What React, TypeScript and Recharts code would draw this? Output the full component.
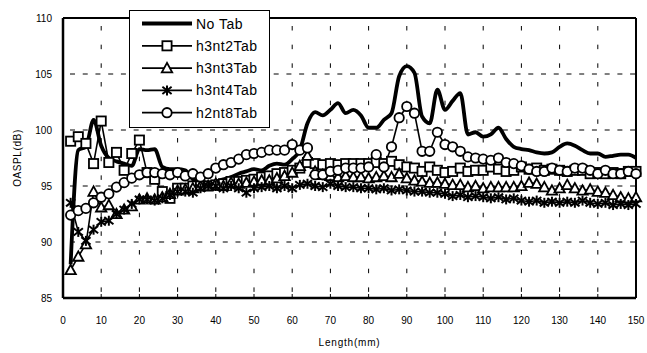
import React from 'react';
import { LineChart, Line, XAxis, YAxis, CartesianGrid, Legend, ReferenceLine, Label } from 'recharts';

const lengths = [
  2, 4, 6, 8, 10, 12, 14, 16, 18, 20,
  22, 24, 26, 28, 30, 32, 34, 36, 38, 40,
  42, 44, 46, 48, 50, 52, 54, 56, 58, 60,
  62, 64, 66, 68, 70, 72, 74, 76, 78, 80,
  82, 84, 86, 88, 90, 92, 94, 96, 98, 100,
  102, 104, 106, 108, 110, 112, 114, 116, 118, 120,
  122, 124, 126, 128, 130, 132, 134, 136, 138, 140,
  142, 144, 146, 148, 150,
];

const noTab = [
  88.0, 98.2, 98.5, 100.9, 98.6, 97.5, 97.2, 97.0, 96.8, 98.3,
  98.2, 98.3, 96.7, 96.5, 96.5, 96.4, 95.6, 95.3, 95.3, 95.4,
  95.6, 95.8, 96.1, 96.3, 96.5, 96.4, 96.8, 97.0, 96.9, 97.4,
  98.2, 100.6, 101.6, 101.3, 101.8, 102.4, 101.5, 101.8, 101.3, 100.2,
  100.2, 100.9, 101.5, 104.8, 105.7, 105.1, 101.2, 100.6, 103.6, 101.8,
  102.6, 103.3, 99.6, 99.8, 99.4, 99.6, 100.2, 99.2, 98.5, 98.3,
  98.2, 98.0, 97.9, 98.0, 98.5, 98.8, 98.6, 98.2, 97.9, 97.9,
  97.6, 97.7, 97.8, 97.8, 97.5,
];

const h3nt2Tab = [
  99.0, 99.4, 98.8, 97.0, 100.8, 97.1, 98.0, 96.4, 97.9, 99.1,
  96.2, 95.6, 94.5, 93.9, 94.8, 94.8, 95.0, 95.0, 95.0, 95.1,
  95.2, 95.4, 95.4, 95.5, 95.6, 95.8, 95.9, 96.1, 96.2, 96.4,
  96.6, 97.1, 97.0, 96.9, 97.0, 96.9, 97.0, 97.0, 97.0, 97.0,
  97.1, 97.0, 97.2, 96.9, 96.7, 96.6, 96.3, 96.7, 96.4, 96.2,
  96.3, 96.6, 96.3, 96.4, 96.4, 96.7, 96.5, 96.3, 96.4, 96.7,
  96.5, 96.6, 96.4, 96.5, 96.4, 96.3, 96.4, 96.4, 96.1, 96.2,
  96.1, 96.2, 96.1, 96.3, 96.3,
];

const h3nt3Tab = [
  87.5, 88.7, 89.8, 94.5, 93.1, 93.3, 92.5, 92.9, 93.2, 93.8,
  93.9, 93.8, 94.0, 94.3, 94.6, 94.7, 94.8, 95.0, 95.0, 95.2,
  95.0, 95.3, 95.2, 95.3, 95.4, 95.5, 95.5, 95.7, 95.9, 96.2,
  96.8, 97.7, 96.3, 96.0, 95.9, 95.8, 95.9, 95.8, 95.8, 95.7,
  95.8, 95.9, 95.8, 96.1, 95.7, 95.5, 95.4, 95.3, 95.3, 95.2,
  95.1, 95.1, 94.9, 95.0, 94.8, 94.9, 94.9, 94.9, 94.9, 95.0,
  95.3, 95.2, 94.9, 94.6, 94.8, 95.1, 94.8, 94.6, 94.7, 94.5,
  94.4, 94.2, 94.0, 93.9, 94.0,
];

const h3nt4Tab = [
  93.5, 90.9, 90.1, 91.1, 91.8, 91.9, 92.5, 92.9, 93.4, 93.8,
  93.8, 93.7, 93.9, 94.2, 94.5, 94.5, 94.4, 94.8, 95.0, 95.0,
  94.8, 95.0, 94.8, 94.4, 94.8, 94.9, 95.0, 94.8, 95.0, 94.8,
  95.1, 95.2, 95.0, 94.9, 95.2, 95.0, 94.9, 94.9, 94.8, 94.8,
  94.7, 94.8, 94.6, 94.7, 94.6, 94.5, 94.5, 94.4, 94.4, 94.3,
  94.1, 94.2, 94.0, 94.1, 94.0, 93.9, 94.0, 93.8, 93.9, 93.7,
  93.6, 93.7, 93.5, 93.6, 93.5, 93.6, 93.5, 93.7, 93.5, 93.4,
  93.5, 93.3, 93.4, 93.3, 93.4,
];

const h2nt8Tab = [
  92.4, 92.8, 93.0, 93.5, 94.0, 94.3, 94.9, 95.3, 95.7, 96.0,
  96.2, 96.2, 96.1, 96.0, 96.2, 95.9, 96.1, 95.8, 96.1, 96.6,
  96.9, 97.1, 97.4, 97.8, 97.9, 98.0, 98.2, 98.2, 98.2, 98.7,
  98.2, 98.4, 96.0, 96.0, 96.3, 96.4, 96.6, 96.6, 96.6, 96.7,
  97.8, 96.7, 98.5, 101.1, 102.1, 101.5, 98.1, 98.1, 99.8, 98.7,
  98.5, 98.1, 97.6, 97.5, 97.4, 97.3, 97.5, 97.1, 97.0, 96.8,
  96.5, 96.3, 96.3, 96.6, 96.4, 96.3, 96.6, 96.6, 96.4, 96.1,
  96.4, 96.1, 96.1, 96.3, 96.1,
];

const xTicks = [0, 10, 20, 30, 40, 50, 60, 70, 80, 90, 100, 110, 120, 130, 140, 150];
const yTicks = [85, 90, 95, 100, 105, 110];

type Shape = 'none' | 'square' | 'triangle' | 'asterisk' | 'circle';

const SERIES: { key: string; name: string; shape: Shape; width: number; curve: 'monotone' | 'linear' }[] = [
  { key: 'noTab', name: 'No Tab', shape: 'none', width: 3.8, curve: 'monotone' },
  { key: 'h3nt2Tab', name: 'h3nt2Tab', shape: 'square', width: 1.6, curve: 'linear' },
  { key: 'h3nt3Tab', name: 'h3nt3Tab', shape: 'triangle', width: 1.6, curve: 'linear' },
  { key: 'h3nt4Tab', name: 'h3nt4Tab', shape: 'asterisk', width: 1.6, curve: 'linear' },
  { key: 'h2nt8Tab', name: 'h2nt8Tab', shape: 'circle', width: 1.6, curve: 'linear' },
];

const data = lengths.map((L, i) => ({
  L,
  noTab: noTab[i],
  h3nt2Tab: h3nt2Tab[i],
  h3nt3Tab: h3nt3Tab[i],
  h3nt4Tab: h3nt4Tab[i],
  h2nt8Tab: h2nt8Tab[i],
}));

function Marker({ shape, cx, cy }: { shape: Shape; cx: number; cy: number }) {
  const sw = 1.8;
  if (shape === 'square') {
    return <rect x={cx - 4.6} y={cy - 4.6} width={9.2} height={9.2} fill="#fff" stroke="#000" strokeWidth={sw} />;
  }
  if (shape === 'triangle') {
    return (
      <polygon
        points={`${cx},${cy - 5.2} ${cx - 5.2},${cy + 4.2} ${cx + 5.2},${cy + 4.2}`}
        fill="#fff"
        stroke="#000"
        strokeWidth={sw}
      />
    );
  }
  if (shape === 'asterisk') {
    return (
      <g stroke="#000" strokeWidth={2}>
        <line x1={cx} y1={cy - 5} x2={cx} y2={cy + 5} />
        <line x1={cx - 4.6} y1={cy - 3.6} x2={cx + 4.6} y2={cy + 3.6} />
        <line x1={cx - 4.6} y1={cy + 3.6} x2={cx + 4.6} y2={cy - 3.6} />
      </g>
    );
  }
  if (shape === 'circle') {
    return <circle cx={cx} cy={cy} r={4.7} fill="#fff" stroke="#000" strokeWidth={sw} />;
  }
  return null;
}

const makeDot = (shape: Shape, name: string) => (props: any) => {
  const { cx, cy, index } = props;
  if (cx == null || cy == null) return <g key={`${name}-${index}`} />;
  return (
    <g key={`${name}-${index}`}>
      <Marker shape={shape} cx={cx} cy={cy} />
    </g>
  );
};

const LegendBox = () => (
  <div
    style={{
      width: 141,
      height: 118,
      border: '1px solid #000',
      background: '#fff',
      boxSizing: 'border-box',
    }}
  >
    <svg width={139} height={116} style={{ display: 'block' }}>
      {SERIES.map((s, i) => {
        const y = 12.5 + i * 22.3;
        return (
          <g key={s.key}>
            <line x1={12} x2={62} y1={y} y2={y} stroke="#000" strokeWidth={s.shape === 'none' ? 4 : 1.8} />
            <Marker shape={s.shape} cx={37} cy={y} />
            <text
              x={66}
              y={y}
              dy="0.36em"
              fontSize={14}
              letterSpacing={0.5}
              fontFamily="'Liberation Sans', Arial, sans-serif"
              fill="#000"
            >
              {s.name}
            </text>
          </g>
        );
      })}
    </svg>
  </div>
);

const tickStyle = { fontSize: 10, fill: '#000', fontFamily: "'Liberation Sans', Arial, sans-serif" };

export default function App() {
  return (
    <div style={{ position: 'absolute', left: 0, top: 0, width: 647, height: 353, overflow: 'hidden', background: '#fff' }}>
      <LineChart
        width={647}
        height={353}
        data={data}
        margin={{ top: 18, right: 11, left: 8, bottom: 0 }}
      >
        <CartesianGrid
          horizontal={true}
          vertical={false}
          stroke="#000"
          strokeWidth={1}
          strokeDasharray="5 7.73"
          strokeDashoffset={5.73}
        />
        <CartesianGrid
          horizontal={false}
          vertical={true}
          stroke="#000"
          strokeWidth={1}
          strokeDasharray="4.5 14.17"
          strokeDashoffset={10.67}
        />
        <XAxis
          dataKey="L"
          type="number"
          domain={[0, 150]}
          ticks={xTicks}
          interval={0}
          height={55}
          axisLine={{ stroke: '#000', strokeWidth: 2.5 }}
          tickLine={{ stroke: '#000', strokeWidth: 1 }}
          tickSize={-4}
          tickMargin={22.7}
          tick={tickStyle}
        >
          <Label
            value="Length(mm)"
            position="insideBottom"
            offset={7}
            style={{ fontSize: 10, fill: '#000', letterSpacing: 0.8, fontFamily: "'Liberation Sans', Arial, sans-serif" }}
          />
        </XAxis>
        <YAxis
          type="number"
          domain={[85, 110]}
          ticks={yTicks}
          interval={0}
          width={55}
          axisLine={{ stroke: '#000', strokeWidth: 2.5 }}
          tickLine={false}
          tickSize={6}
          tickMargin={5}
          tick={tickStyle}
          label={{
            content: (props: any) => {
              const vb = props.viewBox || { x: 8, y: 18, width: 55, height: 280 };
              const x = vb.x + 9;
              const y = vb.y + vb.height / 2;
              return (
                <text
                  x={x}
                  y={y}
                  dy="0.35em"
                  textAnchor="middle"
                  transform={`rotate(-90, ${x}, ${y})`}
                  fontSize={10}
                  letterSpacing={0.6}
                  fontFamily="'Liberation Sans', Arial, sans-serif"
                  fill="#000"
                >
                  OASPL(dB)
                </text>
              );
            },
          }}
        />
        <ReferenceLine y={110} stroke="#000" strokeWidth={2} ifOverflow="visible" />
        <ReferenceLine x={150} stroke="#000" strokeWidth={2} ifOverflow="visible" />
        {SERIES.map((s) => (
          <Line
            key={s.key}
            dataKey={s.key}
            name={s.name}
            type={s.curve}
            stroke="#000"
            strokeWidth={s.width}
            dot={s.shape === 'none' ? false : makeDot(s.shape, s.key)}
            activeDot={false}
            isAnimationActive={false}
          />
        ))}
        <Legend
          layout="vertical"
          align="center"
          verticalAlign="middle"
          width={141}
          height={118}
          wrapperStyle={{ left: 129, top: 10, width: 141, height: 118 }}
          content={() => <LegendBox />}
        />
      </LineChart>
    </div>
  );
}
